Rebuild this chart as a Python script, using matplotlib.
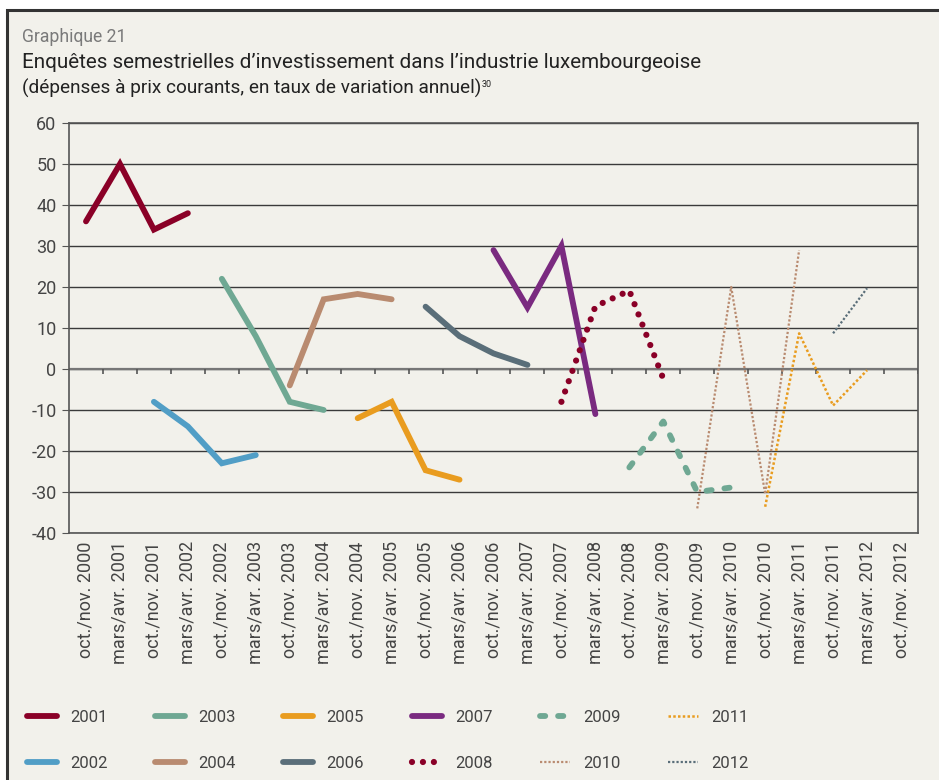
import numpy as np
import matplotlib
matplotlib.use('Agg')
from matplotlib import pyplot as plt
from matplotlib.patches import Rectangle

# categories (semesters of the survey)
periods = []
for y in range(2000, 2013):
    if y > 2000:
        periods.append('mars/avr. ' + str(y))
    periods.append('oct./nov. ' + str(y))

# each survey: first category index + values
start_2001 = 0;  v_2001 = [36, 50, 34, 38]
start_2002 = 2;  v_2002 = [-8, -14, -23, -21]
start_2003 = 4;  v_2003 = [22, 8, -8, -10]
start_2004 = 6;  v_2004 = [-4, 17, 18.3, 17]
start_2005 = 8;  v_2005 = [-12, -8, -24.7, -27]
start_2006 = 10; v_2006 = [15.2, 8, 3.8, 1]
start_2007 = 12; v_2007 = [29, 15, 30, -11]
start_2008 = 14; v_2008 = [-8, 15.3, 19.1, -2.4]
start_2009 = 16; v_2009 = [-24, -12.8, -30, -28.9]
start_2010 = 18; v_2010 = [-34, 20, -30.5, 29]
start_2011 = 20; v_2011 = [-33.6, 8.7, -8.9, -0.3]
start_2012 = 22; v_2012 = [8.7, 19.7]

bg = '#f2f1eb'
red = '#8a0027'
blue = '#519ec6'
green = '#6fa893'
tan = '#b98b70'
orange = '#e99c1f'
slate = '#5a6e79'
purple = '#7a2a80'

plt.rcParams['font.family'] = ['Roboto', 'DejaVu Sans']

fig = plt.figure(figsize=(9.39, 7.80), dpi=100, facecolor='white')
fig.patches.append(Rectangle((7/939, -0.1), 1.2, 1.1 - 10/780, transform=fig.transFigure,
                             fc=bg, ec='#333333', lw=2.2, zorder=-5))

ax = fig.add_axes([69/939, 1-533/780, (918-69)/939, (533-123)/780])
ax.set_facecolor(bg)

def draw(start, vals, **kw):
    x = np.arange(start, start + len(vals))
    return ax.plot(x, vals, **kw)[0]

solid = dict(lw=4.2, solid_capstyle='round', solid_joinstyle='miter')
h = []
h.append(draw(start_2001, v_2001, color=red, label='2001', **solid))
h.append(draw(start_2002, v_2002, color=blue, label='2002', **solid))
h.append(draw(start_2003, v_2003, color=green, label='2003', **solid))
h.append(draw(start_2004, v_2004, color=tan, label='2004', **solid))
h.append(draw(start_2005, v_2005, color=orange, label='2005', **solid))
h.append(draw(start_2006, v_2006, color=slate, label='2006', **solid))
h.append(draw(start_2007, v_2007, color=purple, label='2007', **solid))
h.append(draw(start_2008, v_2008, color=red, label='2008', lw=4.5,
              linestyle=(0, (0.001, 1.75)), dash_capstyle='round'))
h.append(draw(start_2009, v_2009, color=green, label='2009', lw=4.2,
              linestyle=(0, (0.9, 2.2)), dash_capstyle='round'))
h.append(draw(start_2010, v_2010, color=tan, label='2010', lw=1.6,
              linestyle=(0, (1, 0.9))))
h.append(draw(start_2011, v_2011, color=orange, label='2011', lw=1.8,
              linestyle=(0, (1, 0.9))))
h.append(draw(start_2012, v_2012, color=slate, label='2012', lw=1.6,
              linestyle=(0, (1, 0.9))))

ax.set_xlim(-0.5, len(periods) - 0.5)
ax.set_ylim(-40, 60)
ax.set_yticks(np.arange(-40, 61, 10))
ax.set_yticklabels([str(v) for v in range(-40, 61, 10)])
ax.yaxis.grid(True, color='#3a3a3a', lw=1.0)
ax.set_axisbelow(True)
for s in ax.spines.values():
    s.set_color('#555555')
    s.set_linewidth(1.2)

# category axis at zero with tick marks between categories
ax.axhline(0, color='#777777', lw=1.6, zorder=1)
ax.vlines(np.arange(len(periods)) + 0.5, -1.3, 0, color='#555555', lw=1.2, zorder=1)

ax.set_xticks(np.arange(len(periods)))
ax.set_xticklabels(periods, rotation=90, fontsize=13, color='#444444')
ax.tick_params(axis='x', length=0, pad=6)
ax.tick_params(axis='y', length=5, color='#555555', labelsize=13, labelcolor='#444444', pad=4)

fig.text(22/939, 1-37/780, 'Graphique 21', fontsize=12.7, color='#7a7a7a', va='center')
fig.text(22/939, 1-62/780, 'Enquêtes semestrielles d\u2019investissement dans l\u2019industrie luxembourgeoise',
         fontsize=14.9, color='#222222', va='center')
sub = fig.text(22/939, 1-88/780, '(dépenses à prix courants, en taux de variation annuel)',
               fontsize=13.7, color='#222222', va='center')
ax.annotate('30', xy=(1, 1), xycoords=sub, xytext=(0.5, -1), textcoords='offset points',
            fontsize=6.5, color='#222222', va='top', ha='left')

leg = fig.legend(handles=h, ncol=6, loc='upper left', bbox_to_anchor=(12/939, 1-695/780),
                 frameon=False, handlelength=1.8, handletextpad=0.8, columnspacing=2.84,
                 labelspacing=1.85, prop={'size': 12})
for t in leg.get_texts():
    t.set_color('#444444')

plt.savefig('out.png', dpi=100, facecolor='white')
